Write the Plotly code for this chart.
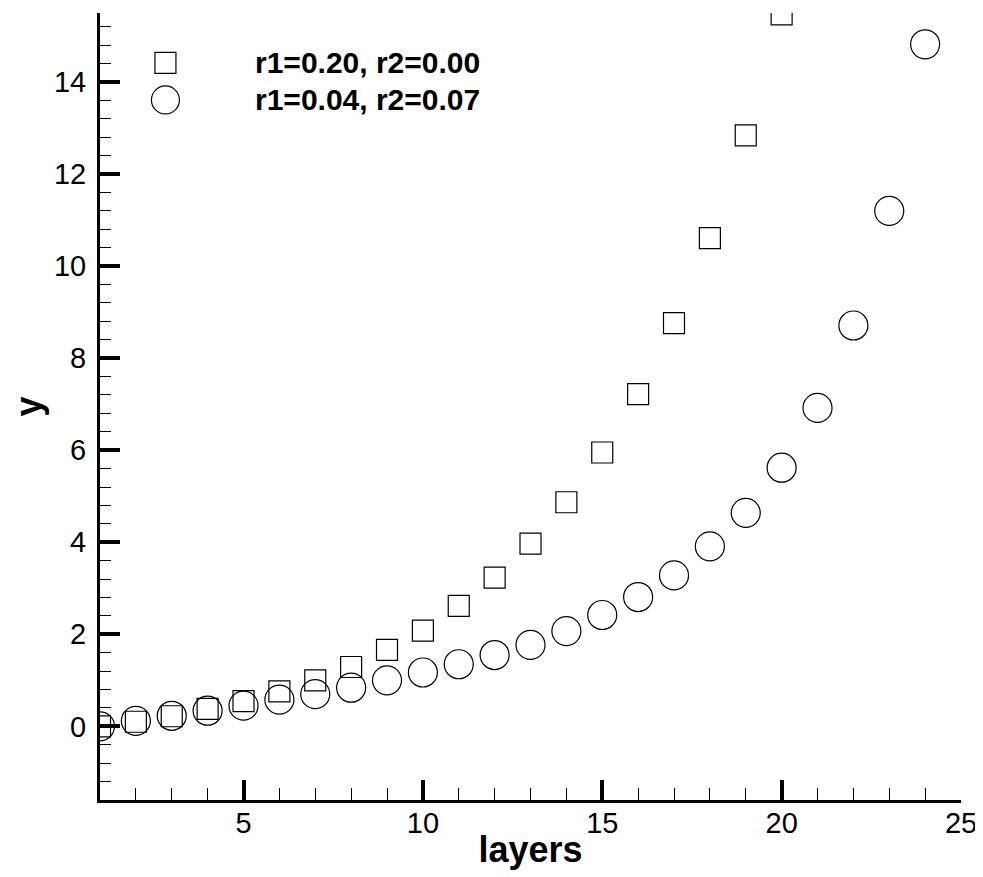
import plotly.graph_objects as go

# ---- data ----
layers_a = list(range(1, 21))
y_a = [0.0, 0.1, 0.22, 0.38, 0.55, 0.76, 1.0, 1.29, 1.66, 2.08,
       2.62, 3.23, 3.97, 4.87, 5.95, 7.22, 8.76, 10.61, 12.84, 15.47]
layers_b = list(range(1, 25))
y_b = [0.0, 0.12, 0.23, 0.34, 0.45, 0.58, 0.70, 0.84, 1.0, 1.17,
       1.35, 1.55, 1.77, 2.07, 2.42, 2.81, 3.28, 3.91, 4.64, 5.62,
       6.92, 8.71, 11.2, 14.82]
series_names = ["r1=0.20, r2=0.00", "r1=0.04, r2=0.07"]
x_title = "layers"
y_title = "y"

FONT = "Liberation Sans, Arial, sans-serif"

fig = go.Figure()
fig.add_trace(go.Scatter(
    x=layers_a, y=y_a, mode="markers", name=series_names[0],
    marker=dict(symbol="square-open", size=21, color="black",
                line=dict(width=1.2, color="black")),
))
fig.add_trace(go.Scatter(
    x=layers_b, y=y_b, mode="markers", name=series_names[1],
    marker=dict(symbol="circle-open", size=29, color="black",
                line=dict(width=1.2, color="black")),
))

# custom legend (Tecplot-like)
leg_x_sym = 0.076
leg_x_txt = 0.1775
leg_y = [0.9365, 0.8895]
fig.add_shape(type="rect", xref="paper", yref="paper",
              xsizemode="pixel", ysizemode="pixel",
              xanchor=leg_x_sym, yanchor=leg_y[0],
              x0=-10.5, x1=10.5, y0=-10.5, y1=10.5,
              line=dict(color="black", width=1.2))
fig.add_shape(type="circle", xref="paper", yref="paper",
              xsizemode="pixel", ysizemode="pixel",
              xanchor=leg_x_sym, yanchor=leg_y[1],
              x0=-14, x1=14, y0=-14, y1=14,
              line=dict(color="black", width=1.2))
for name, yy in zip(series_names, leg_y):
    fig.add_annotation(xref="paper", yref="paper", x=leg_x_txt, y=yy,
                       text="<b>%s</b>" % name, showarrow=False,
                       xanchor="left", yanchor="middle",
                       font=dict(family=FONT, size=30, color="black"))

axis_common = dict(
    showline=True, linewidth=3, linecolor="black",
    ticks="inside", ticklen=20, tickwidth=4, tickcolor="black",
    showgrid=False, zeroline=False, automargin=False,
    tickfont=dict(family=FONT, size=29, color="black"),
)

fig.update_xaxes(
    range=[1, 25], tick0=0, dtick=5, ticklabelstandoff=-5,
    minor=dict(ticks="inside", dtick=1, tick0=0, ticklen=12, tickwidth=1,
               tickcolor="black", showgrid=False),
    title=dict(text="<b>%s</b>" % x_title, standoff=0,
               font=dict(family=FONT, size=36, color="black")),
    **axis_common,
)
fig.update_yaxes(
    range=[-1.6, 15.5], tick0=0, dtick=2, ticklabelstandoff=5,
    minor=dict(ticks="inside", dtick=0.4, tick0=0, ticklen=11, tickwidth=1,
               tickcolor="black", showgrid=False),
    title=dict(text="<b>%s</b>" % y_title, standoff=8,
               font=dict(family=FONT, size=36, color="black")),
    **axis_common,
)

# page body has an 8px margin; compensate so the plot area lands where the reference has it
fig.update_layout(
    width=975, height=869,
    margin=dict(l=92, r=22, t=5, b=77),
    plot_bgcolor="white", paper_bgcolor="white",
    showlegend=False,
)

fig.write_html("out.html")
